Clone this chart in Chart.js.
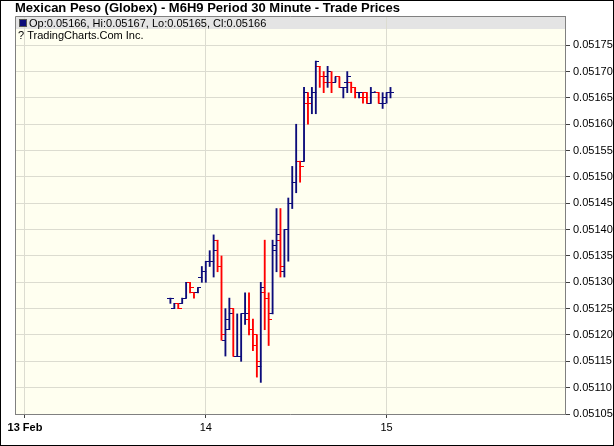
<!DOCTYPE html>
<html>
<head>
<meta charset="utf-8">
<script src="https://cdn.jsdelivr.net/npm/chart.js@4.4.1/dist/chart.umd.min.js"></script>
<style>
  html, body { margin: 0; padding: 0; background: #fff; }
  #wrap { position: relative; width: 614px; height: 446px; }
</style>
</head>
<body>
<div id="wrap"><canvas id="chart" width="614" height="446"></canvas></div>
<script>
const chartTitle = "Mexican Peso (Globex) - M6H9 Period 30 Minute - Trade Prices";
const creditText = "? TradingCharts.Com Inc.";

// x axis: 30 minute slots, 46 per trading day
const dayLabels = ["13 Feb", "14", "15"];
const daySlots = [0, 46, 92];
const firstBarSlot = 37;

const opens = [0.05127, 0.05125, 0.05126, 0.05126, 0.05127, 0.05130, 0.05128, 0.05128, 0.05131, 0.05132,
  0.05134, 0.05134, 0.05138, 0.05133, 0.05119, 0.05121, 0.05125, 0.05116, 0.05116, 0.05124,
  0.05123, 0.05121, 0.05120, 0.05114, 0.05128, 0.05127, 0.05124, 0.05137, 0.05138, 0.05132,
  0.05140, 0.05145, 0.05149, 0.05153, 0.05153, 0.05164, 0.05165, 0.05166, 0.05171, 0.05169,
  0.05169, 0.05168, 0.05168, 0.05169, 0.05167, 0.05168, 0.05168, 0.05167, 0.05166, 0.05165,
  0.05166, 0.05164, 0.05166, 0.05166, 0.05164, 0.05165, 0.05166];
const highs = [0.05127, 0.05126, 0.05126, 0.05127, 0.05130, 0.05130, 0.05128, 0.05129, 0.05133, 0.05134,
  0.05136, 0.05139, 0.05138, 0.05135, 0.05125, 0.05127, 0.05125, 0.05124, 0.05124, 0.05128,
  0.05128, 0.05123, 0.05120, 0.05130, 0.05138, 0.05128, 0.05138, 0.05144, 0.05144, 0.05140,
  0.05146, 0.05152, 0.05160, 0.05153, 0.05167, 0.05166, 0.05167, 0.05172, 0.05171, 0.05170,
  0.05171, 0.05170, 0.05169, 0.05169, 0.05167, 0.05170, 0.05168, 0.05167, 0.05166, 0.05166,
  0.05166, 0.05167, 0.05166, 0.05166, 0.05166, 0.05166, 0.05167];
const lows = [0.05126, 0.05125, 0.05125, 0.05126, 0.05127, 0.05128, 0.05127, 0.05128, 0.05130, 0.05130,
  0.05133, 0.05131, 0.05132, 0.05119, 0.05116, 0.05121, 0.05116, 0.05116, 0.05115, 0.05122,
  0.05120, 0.05117, 0.05112, 0.05111, 0.05121, 0.05118, 0.05124, 0.05132, 0.05131, 0.05131,
  0.05134, 0.05144, 0.05147, 0.05149, 0.05153, 0.05160, 0.05162, 0.05162, 0.05167, 0.05166,
  0.05167, 0.05166, 0.05168, 0.05167, 0.05165, 0.05166, 0.05166, 0.05165, 0.05165, 0.05164,
  0.05164, 0.05164, 0.05166, 0.05164, 0.05163, 0.05164, 0.05165];
const closes = [0.05127, 0.05126, 0.05125, 0.05127, 0.05130, 0.05129, 0.05128, 0.05129, 0.05132, 0.05134,
  0.05134, 0.05136, 0.05133, 0.05120, 0.05123, 0.05124, 0.05116, 0.05116, 0.05124, 0.05124,
  0.05121, 0.05118, 0.05115, 0.05129, 0.05127, 0.05123, 0.05136, 0.05139, 0.05133, 0.05140,
  0.05145, 0.05149, 0.05153, 0.05152, 0.05166, 0.05164, 0.05166, 0.05172, 0.05169, 0.05168,
  0.05170, 0.05168, 0.05169, 0.05167, 0.05167, 0.05169, 0.05167, 0.05166, 0.05166, 0.05165,
  0.05164, 0.05166, 0.05166, 0.05164, 0.05164, 0.05166, 0.05166];

const priceTicks = [0.05105, 0.05110, 0.05115, 0.05120, 0.05125, 0.05130, 0.05135, 0.05140,
  0.05145, 0.05150, 0.05155, 0.05160, 0.05165, 0.05170, 0.05175];

const UP = "#0c0c7a";
const DOWN = "#ff0000";
const FONT = "'Liberation Sans', Arial, sans-serif";

const slots = closes.map((c, i) => firstBarSlot + i);

// red when the bar closes lower (or flat below the previous close)
function isDown(i) {
  if (closes[i] < opens[i]) return true;
  return closes[i] === opens[i] && i > 0 && closes[i] < closes[i - 1];
}

function tickImage(color, side) {
  const c = document.createElement("canvas");
  c.width = 7;
  c.height = 1;
  const g = c.getContext("2d");
  g.fillStyle = color;
  g.fillRect(side === "left" ? 0 : 3, 0, 4, 1);
  return c;
}
const openImg = { up: tickImage(UP, "left"), down: tickImage(DOWN, "left") };
const closeImg = { up: tickImage(UP, "right"), down: tickImage(DOWN, "right") };

const last = closes.length - 1;
const quoteText =
  "Op:" + opens[last].toFixed(5) + ", Hi:" + highs[last].toFixed(5) +
  ", Lo:" + lows[last].toFixed(5) + ", Cl:" + closes[last].toFixed(5);

const frame = {
  id: "frame",
  beforeDraw(chart) {
    const { ctx, chartArea: a } = chart;
    ctx.save();
    ctx.fillStyle = "#fffff0";
    ctx.fillRect(a.left, a.top, a.right - a.left, a.bottom - a.top);
    ctx.fillStyle = "#e4e4e4";
    ctx.fillRect(a.left, a.top + 1, a.right - a.left, 12);
    ctx.restore();
  },
  beforeDatasetsDraw(chart) {
    const { ctx, chartArea: a } = chart;
    ctx.save();
    ctx.strokeStyle = "#808080";
    ctx.lineWidth = 1;
    ctx.beginPath();
    ctx.moveTo(a.left + 0.5, a.bottom);
    ctx.lineTo(a.left + 0.5, a.top + 0.5);
    ctx.lineTo(a.right, a.top + 0.5);
    ctx.stroke();
    ctx.fillStyle = UP;
    ctx.fillRect(a.left + 4, a.top + 3, 8, 8);
    ctx.strokeStyle = "#555";
    ctx.strokeRect(a.left + 4.5, a.top + 3.5, 7, 7);
    ctx.fillStyle = "#000";
    ctx.font = "11px " + FONT;
    ctx.textBaseline = "middle";
    ctx.fillText(quoteText, a.left + 14, a.top + 7.5);
    ctx.fillText(creditText, a.left + 3, a.top + 20);
    ctx.restore();
  },
  afterDraw(chart) {
    const { ctx, width, height } = chart;
    ctx.save();
    ctx.strokeStyle = "#000";
    ctx.lineWidth = 1;
    ctx.strokeRect(0.5, 0.5, width - 1, height - 1);
    ctx.restore();
  },
};

new Chart(document.getElementById("chart"), {
  type: "bar",
  data: {
    datasets: [
      {
        type: "bar",
        label: "High-Low",
        data: slots.map((x, i) => ({ x, y: [lows[i], highs[i]] })),
        backgroundColor: (ctx) => (isDown(ctx.dataIndex) ? DOWN : UP),
        barThickness: 1.2,
        borderWidth: 0,
        grouped: false,
        minBarLength: 1,
      },
      {
        type: "scatter",
        label: "Open",
        data: slots.map((x, i) => ({ x, y: opens[i] })),
        pointStyle: (ctx) => (isDown(ctx.dataIndex) ? openImg.down : openImg.up),
      },
      {
        type: "scatter",
        label: "Close",
        data: slots.map((x, i) => ({ x, y: closes[i] })),
        pointStyle: (ctx) => (isDown(ctx.dataIndex) ? closeImg.down : closeImg.up),
      },
    ],
  },
  options: {
    responsive: false,
    animation: false,
    layout: { padding: { left: 15, right: 0, top: 0, bottom: 0 } },
    plugins: {
      legend: { display: false },
      tooltip: { enabled: false },
      title: {
        display: true,
        text: chartTitle,
        align: "start",
        color: "#000",
        font: { family: FONT, size: 13, weight: "bold", lineHeight: 1.077 },
        padding: { top: 1, bottom: 1 },
      },
    },
    scales: {
      x: {
        type: "linear",
        min: -2.54,
        max: 137.4,
        offset: false,
        afterBuildTicks: (s) => { s.ticks = daySlots.map((v) => ({ value: v })); },
        afterFit: (s) => { s.height = 32; },
        ticks: {
          color: "#000",
          maxRotation: 0,
          padding: 3,
          font: (ctx) => ({ family: FONT, size: 11, weight: ctx.index === 0 ? "bold" : "normal" }),
          callback: (v, i) => dayLabels[i],
        },
        grid: { offset: false, color: "#dcdcd0", tickColor: "#404040", tickLength: 4 },
        border: { color: "#808080" },
      },
      y: {
        type: "linear",
        position: "right",
        min: 0.05105,
        max: 0.0518055,
        afterBuildTicks: (s) => { s.ticks = priceTicks.map((v) => ({ value: v })); },
        afterFit: (s) => { s.width = 49; },
        ticks: {
          color: "#000",
          padding: 3,
          font: { family: FONT, size: 11 },
          callback: (v) => v.toFixed(5),
        },
        grid: { color: "#dcdcd0", tickColor: "#404040", tickLength: 5 },
        border: { color: "#808080" },
      },
    },
  },
  plugins: [frame],
});
</script>
</body>
</html>
